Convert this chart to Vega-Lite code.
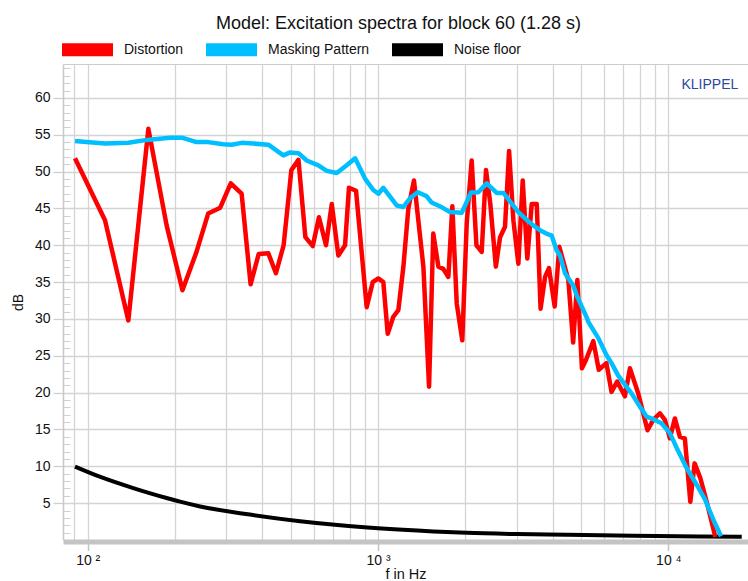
{
  "$schema": "https://vega.github.io/schema/vega-lite/v6.json",
  "width": 685,
  "height": 476,
  "autosize": {"type": "none"},
  "padding": {"left": 63, "top": 64, "right": 0, "bottom": 41},
  "config": {
    "font": "Liberation Sans",
    "view": {"stroke": null},
    "axis": {"labelFont": "Liberation Sans", "titleFont": "Liberation Sans"},
    "legend": {"labelFont": "Liberation Sans"}
  },
  "title": {
    "text": "Model: Excitation spectra for block 60 (1.28 s)",
    "fontSize": 18,
    "fontWeight": "normal",
    "color": "#111111",
    "anchor": "middle",
    "frame": "group",
    "dx": -7,
    "dy": 17,
    "offset": 8
  },
  "datasets": {
    "curves": [
      {"s": "Noise floor", "f": 90.4, "db": 9.97},
      {"s": "Noise floor", "f": 110, "db": 8.6},
      {"s": "Noise floor", "f": 143.5, "db": 7.05},
      {"s": "Noise floor", "f": 187, "db": 5.7},
      {"s": "Noise floor", "f": 208, "db": 5.2},
      {"s": "Noise floor", "f": 244, "db": 4.55},
      {"s": "Noise floor", "f": 362, "db": 3.45},
      {"s": "Noise floor", "f": 539, "db": 2.55},
      {"s": "Noise floor", "f": 741, "db": 2.0},
      {"s": "Noise floor", "f": 1000, "db": 1.6},
      {"s": "Noise floor", "f": 1550, "db": 1.17},
      {"s": "Noise floor", "f": 2021, "db": 0.97},
      {"s": "Noise floor", "f": 3005, "db": 0.8},
      {"s": "Noise floor", "f": 4467, "db": 0.7},
      {"s": "Noise floor", "f": 7576, "db": 0.58},
      {"s": "Noise floor", "f": 12856, "db": 0.49},
      {"s": "Noise floor", "f": 17900, "db": 0.45},
      {"s": "Distortion", "f": 90.4, "db": 51.8},
      {"s": "Distortion", "f": 114.7, "db": 43.4},
      {"s": "Distortion", "f": 138, "db": 29.8},
      {"s": "Distortion", "f": 161.8, "db": 55.8},
      {"s": "Distortion", "f": 187, "db": 42.7},
      {"s": "Distortion", "f": 212, "db": 33.9},
      {"s": "Distortion", "f": 237, "db": 39.1},
      {"s": "Distortion", "f": 260, "db": 44.3},
      {"s": "Distortion", "f": 286, "db": 45.1},
      {"s": "Distortion", "f": 311, "db": 48.4},
      {"s": "Distortion", "f": 339, "db": 47.0},
      {"s": "Distortion", "f": 364, "db": 34.7},
      {"s": "Distortion", "f": 388, "db": 38.8},
      {"s": "Distortion", "f": 419, "db": 38.9},
      {"s": "Distortion", "f": 445, "db": 36.2},
      {"s": "Distortion", "f": 473, "db": 40.0},
      {"s": "Distortion", "f": 503, "db": 50.2},
      {"s": "Distortion", "f": 532, "db": 51.6},
      {"s": "Distortion", "f": 562, "db": 41.1},
      {"s": "Distortion", "f": 596, "db": 39.9},
      {"s": "Distortion", "f": 626, "db": 43.8},
      {"s": "Distortion", "f": 662, "db": 40.0},
      {"s": "Distortion", "f": 693, "db": 45.6},
      {"s": "Distortion", "f": 730, "db": 38.6},
      {"s": "Distortion", "f": 770, "db": 40.0},
      {"s": "Distortion", "f": 794, "db": 47.8},
      {"s": "Distortion", "f": 840, "db": 47.4},
      {"s": "Distortion", "f": 914, "db": 31.6},
      {"s": "Distortion", "f": 959, "db": 35.0},
      {"s": "Distortion", "f": 1002, "db": 35.5},
      {"s": "Distortion", "f": 1043, "db": 35.0},
      {"s": "Distortion", "f": 1080, "db": 28.0},
      {"s": "Distortion", "f": 1129, "db": 30.3},
      {"s": "Distortion", "f": 1175, "db": 31.2},
      {"s": "Distortion", "f": 1223, "db": 37.1},
      {"s": "Distortion", "f": 1272, "db": 45.0},
      {"s": "Distortion", "f": 1330, "db": 48.8},
      {"s": "Distortion", "f": 1433, "db": 37.1},
      {"s": "Distortion", "f": 1499, "db": 20.8},
      {"s": "Distortion", "f": 1550, "db": 41.6},
      {"s": "Distortion", "f": 1614, "db": 37.1},
      {"s": "Distortion", "f": 1678, "db": 36.8},
      {"s": "Distortion", "f": 1747, "db": 35.7},
      {"s": "Distortion", "f": 1803, "db": 45.3},
      {"s": "Distortion", "f": 1867, "db": 32.1},
      {"s": "Distortion", "f": 1951, "db": 27.1},
      {"s": "Distortion", "f": 2021, "db": 43.0},
      {"s": "Distortion", "f": 2102, "db": 51.5},
      {"s": "Distortion", "f": 2183, "db": 40.0},
      {"s": "Distortion", "f": 2276, "db": 39.1},
      {"s": "Distortion", "f": 2355, "db": 50.2},
      {"s": "Distortion", "f": 2437, "db": 45.6},
      {"s": "Distortion", "f": 2546, "db": 37.1},
      {"s": "Distortion", "f": 2633, "db": 41.1},
      {"s": "Distortion", "f": 2738, "db": 42.5},
      {"s": "Distortion", "f": 2828, "db": 52.8},
      {"s": "Distortion", "f": 2926, "db": 43.4},
      {"s": "Distortion", "f": 3044, "db": 37.5},
      {"s": "Distortion", "f": 3151, "db": 48.8},
      {"s": "Distortion", "f": 3268, "db": 38.2},
      {"s": "Distortion", "f": 3384, "db": 45.6},
      {"s": "Distortion", "f": 3522, "db": 45.6},
      {"s": "Distortion", "f": 3630, "db": 31.4},
      {"s": "Distortion", "f": 3762, "db": 35.7},
      {"s": "Distortion", "f": 3880, "db": 36.9},
      {"s": "Distortion", "f": 4060, "db": 31.7},
      {"s": "Distortion", "f": 4212, "db": 39.8},
      {"s": "Distortion", "f": 4524, "db": 35.3},
      {"s": "Distortion", "f": 4700, "db": 26.8},
      {"s": "Distortion", "f": 4861, "db": 35.3},
      {"s": "Distortion", "f": 5040, "db": 23.3},
      {"s": "Distortion", "f": 5200, "db": 24.4},
      {"s": "Distortion", "f": 5517, "db": 27.0},
      {"s": "Distortion", "f": 5760, "db": 23.1},
      {"s": "Distortion", "f": 6120, "db": 24.0},
      {"s": "Distortion", "f": 6373, "db": 20.1},
      {"s": "Distortion", "f": 6665, "db": 21.5},
      {"s": "Distortion", "f": 7085, "db": 19.5},
      {"s": "Distortion", "f": 7373, "db": 23.3},
      {"s": "Distortion", "f": 7876, "db": 19.9},
      {"s": "Distortion", "f": 8479, "db": 14.9},
      {"s": "Distortion", "f": 8868, "db": 16.3},
      {"s": "Distortion", "f": 9354, "db": 17.2},
      {"s": "Distortion", "f": 9732, "db": 16.3},
      {"s": "Distortion", "f": 10125, "db": 13.8},
      {"s": "Distortion", "f": 10534, "db": 16.5},
      {"s": "Distortion", "f": 10960, "db": 14.0},
      {"s": "Distortion", "f": 11400, "db": 13.8},
      {"s": "Distortion", "f": 11906, "db": 5.2},
      {"s": "Distortion", "f": 12319, "db": 10.4},
      {"s": "Distortion", "f": 12890, "db": 8.4},
      {"s": "Distortion", "f": 13593, "db": 5.0},
      {"s": "Distortion", "f": 14519, "db": 0.4},
      {"s": "Masking Pattern", "f": 90.4, "db": 54.15},
      {"s": "Masking Pattern", "f": 99, "db": 54.0},
      {"s": "Masking Pattern", "f": 115, "db": 53.8},
      {"s": "Masking Pattern", "f": 138, "db": 53.9},
      {"s": "Masking Pattern", "f": 160, "db": 54.3},
      {"s": "Masking Pattern", "f": 192, "db": 54.6},
      {"s": "Masking Pattern", "f": 211, "db": 54.6},
      {"s": "Masking Pattern", "f": 237, "db": 54.0},
      {"s": "Masking Pattern", "f": 260, "db": 54.0},
      {"s": "Masking Pattern", "f": 293, "db": 53.7},
      {"s": "Masking Pattern", "f": 313, "db": 53.65},
      {"s": "Masking Pattern", "f": 339, "db": 53.9},
      {"s": "Masking Pattern", "f": 372, "db": 53.8},
      {"s": "Masking Pattern", "f": 419, "db": 53.65},
      {"s": "Masking Pattern", "f": 472, "db": 52.2},
      {"s": "Masking Pattern", "f": 498, "db": 52.6},
      {"s": "Masking Pattern", "f": 532, "db": 52.5},
      {"s": "Masking Pattern", "f": 568, "db": 51.5},
      {"s": "Masking Pattern", "f": 623, "db": 50.85},
      {"s": "Masking Pattern", "f": 666, "db": 50.1},
      {"s": "Masking Pattern", "f": 721, "db": 49.8},
      {"s": "Masking Pattern", "f": 780, "db": 50.85},
      {"s": "Masking Pattern", "f": 834, "db": 51.8},
      {"s": "Masking Pattern", "f": 902, "db": 49.05},
      {"s": "Masking Pattern", "f": 963, "db": 47.5},
      {"s": "Masking Pattern", "f": 1003, "db": 47.0},
      {"s": "Masking Pattern", "f": 1043, "db": 47.8},
      {"s": "Masking Pattern", "f": 1100, "db": 46.6},
      {"s": "Masking Pattern", "f": 1160, "db": 45.4},
      {"s": "Masking Pattern", "f": 1223, "db": 45.2},
      {"s": "Masking Pattern", "f": 1290, "db": 46.4},
      {"s": "Masking Pattern", "f": 1370, "db": 47.2},
      {"s": "Masking Pattern", "f": 1472, "db": 46.65},
      {"s": "Masking Pattern", "f": 1530, "db": 45.8},
      {"s": "Masking Pattern", "f": 1660, "db": 45.15},
      {"s": "Masking Pattern", "f": 1770, "db": 44.5},
      {"s": "Masking Pattern", "f": 1942, "db": 44.4},
      {"s": "Masking Pattern", "f": 2090, "db": 47.15},
      {"s": "Masking Pattern", "f": 2216, "db": 47.2},
      {"s": "Masking Pattern", "f": 2368, "db": 48.4},
      {"s": "Masking Pattern", "f": 2564, "db": 47.1},
      {"s": "Masking Pattern", "f": 2703, "db": 47.1},
      {"s": "Masking Pattern", "f": 3044, "db": 44.5},
      {"s": "Masking Pattern", "f": 3240, "db": 43.5},
      {"s": "Masking Pattern", "f": 3425, "db": 42.7},
      {"s": "Masking Pattern", "f": 3614, "db": 42.05},
      {"s": "Masking Pattern", "f": 3840, "db": 41.5},
      {"s": "Masking Pattern", "f": 3966, "db": 41.3},
      {"s": "Masking Pattern", "f": 4126, "db": 39.3},
      {"s": "Masking Pattern", "f": 4236, "db": 38.6},
      {"s": "Masking Pattern", "f": 4406, "db": 36.2},
      {"s": "Masking Pattern", "f": 4708, "db": 34.5},
      {"s": "Masking Pattern", "f": 4835, "db": 33.2},
      {"s": "Masking Pattern", "f": 5234, "db": 30.2},
      {"s": "Masking Pattern", "f": 5302, "db": 29.6},
      {"s": "Masking Pattern", "f": 5740, "db": 27.4},
      {"s": "Masking Pattern", "f": 6120, "db": 25.1},
      {"s": "Masking Pattern", "f": 6373, "db": 24.0},
      {"s": "Masking Pattern", "f": 6720, "db": 22.3},
      {"s": "Masking Pattern", "f": 7468, "db": 19.9},
      {"s": "Masking Pattern", "f": 7982, "db": 18.1},
      {"s": "Masking Pattern", "f": 8414, "db": 16.75},
      {"s": "Masking Pattern", "f": 8868, "db": 16.4},
      {"s": "Masking Pattern", "f": 9474, "db": 15.85},
      {"s": "Masking Pattern", "f": 10125, "db": 14.5},
      {"s": "Masking Pattern", "f": 10688, "db": 12.5},
      {"s": "Masking Pattern", "f": 11570, "db": 9.75},
      {"s": "Masking Pattern", "f": 12527, "db": 7.5},
      {"s": "Masking Pattern", "f": 13377, "db": 5.5},
      {"s": "Masking Pattern", "f": 14291, "db": 2.75},
      {"s": "Masking Pattern", "f": 15184, "db": 0.5}
    ]
  },
  "resolve": {"axis": {"x": "independent", "y": "independent"}},
  "layer": [
    {
      "data": {"values": [{"t": "KLIPPEL"}]},
      "mark": {"type": "text", "align": "right", "baseline": "alphabetic", "fontSize": 14, "color": "#2b4a9b", "font": "Liberation Sans"},
      "encoding": {
        "x": {
          "datum": 17420,
          "type": "quantitative",
          "scale": {"type": "log", "domain": [82.2, 18813], "nice": false},
          "axis": {
            "orient": "top",
            "values": [90, 100, 200, 300, 400, 500, 600, 700, 800, 900, 1000, 2000, 3000, 4000, 5000, 6000, 7000, 8000, 9000, 10000],
            "grid": true, "gridColor": "#d4d4d4", "gridWidth": 1.3,
            "ticks": false, "labels": false,
            "domain": true, "domainColor": "#cccccc", "domainWidth": 1.2,
            "title": null
          }
        },
        "y": {
          "datum": 61.2,
          "type": "quantitative",
          "scale": {"domain": [0, 64.6], "nice": false, "zero": false},
          "axis": {
            "orient": "left",
            "values": [1,2,3,4,6,7,8,9,11,12,13,14,16,17,18,19,21,22,23,24,26,27,28,29,31,32,33,34,36,37,38,39,41,42,43,44,46,47,48,49,51,52,53,54,56,57,58,59,61,62,63,64],
            "grid": false, "labels": false, "domain": false,
            "ticks": true, "tickSize": -7, "tickColor": "#d0d0d0", "tickWidth": 1,
            "title": null
          }
        },
        "text": {"field": "t"}
      }
    },
    {
      "data": {"name": "curves"},
      "transform": [{"filter": "datum.s === 'Noise floor'"}],
      "mark": {"type": "line", "interpolate": "monotone", "strokeWidth": 4, "clip": true},
      "encoding": {
        "x": {"field": "f", "type": "quantitative", "axis": null},
        "y": {"field": "db", "type": "quantitative", "axis": null},
        "color": {"field": "s", "type": "nominal"}
      }
    },
    {
      "data": {"name": "curves"},
      "transform": [{"filter": "datum.s !== 'Noise floor'"}],
      "mark": {"type": "line", "strokeWidth": 4.5, "clip": true, "strokeJoin": "round"},
      "encoding": {
        "x": {
          "field": "f",
          "type": "quantitative",
          "axis": {
            "orient": "bottom",
            "values": [100, 1000, 10000],
            "grid": false,
            "tickSize": 9, "tickColor": "#c4c4c4", "tickWidth": 1.5,
            "domainColor": "#c4c4c4", "domainWidth": 5, "offset": 1.5,
            "labelExpr": "datum.value == 100 ? '10 ²' : datum.value == 1000 ? '10 ³' : '10 ⁴'",
            "labelFontSize": 14, "labelColor": "#111111", "labelPadding": 3,
            "title": "f in Hz", "titleFontSize": 14.5, "titleFontWeight": "normal", "titleColor": "#111111", "titlePadding": 0
          }
        },
        "y": {
          "field": "db",
          "type": "quantitative",
          "axis": {
            "orient": "left",
            "values": [5, 10, 15, 20, 25, 30, 35, 40, 45, 50, 55, 60],
            "grid": true, "gridColor": "#d4d4d4", "gridWidth": 1.3,
            "tickSize": 10, "tickColor": "#cfcfcf", "tickWidth": 1.3,
            "domainColor": "#c8c8c8", "domainWidth": 1.5,
            "labelFontSize": 14, "labelColor": "#111111", "labelPadding": 3,
            "title": "dB", "titleFontSize": 14, "titleFontWeight": "normal", "titleColor": "#111111", "titlePadding": 9
          }
        },
        "color": {
          "field": "s",
          "type": "nominal",
          "scale": {"domain": ["Distortion", "Masking Pattern", "Noise floor"], "range": ["#ff0000", "#00bfff", "#000000"]},
          "legend": {
            "orient": "none", "legendX": -1, "legendY": -40,
            "direction": "horizontal", "title": null,
            "symbolType": "M-1,-0.255H1V0.255H-1Z", "symbolSize": 2601, "symbolStrokeWidth": 0,
            "labelFontSize": 14, "labelColor": "#111111", "labelOffset": 11,
            "columnPadding": 22, "padding": 0,
            "encode": {"symbols": {"update": {"fill": {"scale": "color", "field": "value"}, "stroke": {"value": "transparent"}, "strokeWidth": {"value": 0}}}}
          }
        }
      }
    }
  ]
}
